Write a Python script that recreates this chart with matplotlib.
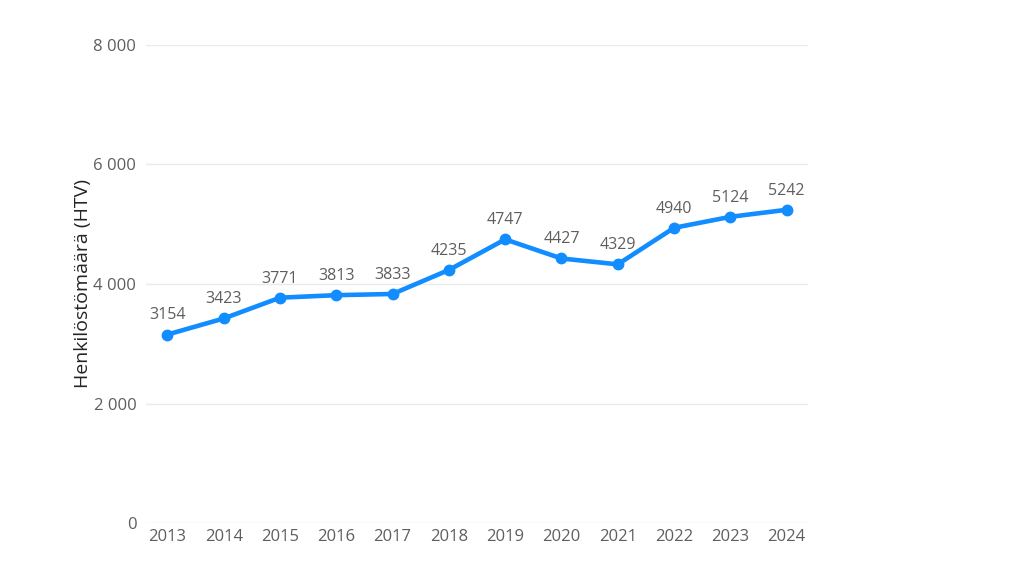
import matplotlib
matplotlib.use("Agg")
import matplotlib.pyplot as plt
from matplotlib.ticker import FuncFormatter

years = ["2013", "2014", "2015", "2016", "2017", "2018", "2019", "2020", "2021", "2022", "2023", "2024"]
values = [3154, 3423, 3771, 3813, 3833, 4235, 4747, 4427, 4329, 4940, 5124, 5242]
yticks = [0, 2000, 4000, 6000, 8000]

plt.rcParams['font.family'] = ['Open Sans', 'DejaVu Sans']

fig = plt.figure(figsize=(10.24, 5.76), dpi=100)
ax = fig.add_axes([0.1426, 0.092, 0.6465, 0.8299])

x = list(range(len(years)))
line_color = "#118DFF"
ax.plot(x, values, color=line_color, linewidth=3.3, marker="o", markersize=7.5, clip_on=False, zorder=3)
for xi, v in zip(x, values):
    ax.annotate(str(v), (xi, v), xytext=(0, 8), textcoords="offset points",
                ha="center", va="bottom", fontsize=11.5, color="#605E5C")

ax.set_xlim(-0.38, len(years) - 1 + 0.38)
ax.set_ylim(0, 8000)
ax.set_yticks(yticks)
ax.yaxis.set_major_formatter(FuncFormatter(lambda v, p: f"{int(v):,}".replace(",", " ")))
ax.set_xticks(x)
ax.set_xticklabels(years)
ax.grid(axis="y", color="#EAEAEA", linewidth=1)
ax.set_axisbelow(True)
for s in ax.spines.values():
    s.set_visible(False)
ax.tick_params(axis="both", length=0, labelsize=12, labelcolor="#605E5C")
ax.tick_params(axis="y", pad=7)
ax.tick_params(axis="x", pad=4)
ax.set_ylabel("Henkilöstömäärä (HTV)", fontsize=14, color="#252423")
ax.yaxis.set_label_coords(-0.081, 0.5)

fig.savefig("out.png", dpi=100)
